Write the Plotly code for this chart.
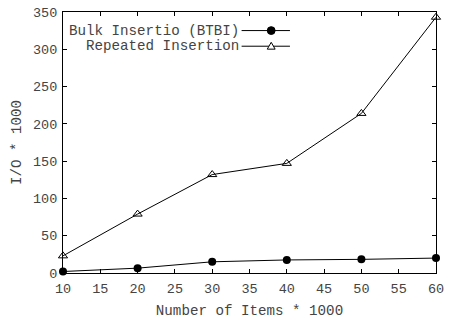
import plotly.graph_objects as go

# Number of items (thousands)
items = [10, 20, 30, 40, 50, 60]
# I/O cost (thousands)
bulk_io = [2, 6.5, 15, 17.5, 18.3, 20]
repeated_io = [23, 79, 132, 147, 214, 343]

series_names = ["Bulk Insertio (BTBI)", "Repeated Insertion"]
x_ticks = [10, 15, 20, 25, 30, 35, 40, 45, 50, 55, 60]
y_ticks = [0, 50, 100, 150, 200, 250, 300, 350]

W, H = 450, 321
L, R, T, B = 63, 9, 6, 48
FONT = "Liberation Mono, Courier New, monospace"
TXT = "#444444"

fig = go.Figure()
fig.add_trace(go.Scatter(
    x=items, y=bulk_io, mode="lines+markers", name=series_names[0],
    line=dict(color="black", width=1),
    marker=dict(symbol="circle", size=8, color="black"),
    showlegend=False, cliponaxis=False,
))
fig.add_trace(go.Scatter(
    x=items, y=repeated_io, mode="lines+markers", name=series_names[1],
    line=dict(color="black", width=1),
    marker=dict(symbol="triangle-up-open", size=8, color="black",
                line=dict(width=1, color="black")),
    showlegend=False, cliponaxis=False,
))

# Key: right-aligned labels followed by a line sample with the point symbol
pw, ph = W - L - R, H - T - B
def px(x):
    return (x - L) / pw
def py(y):
    return 1 - (y - T) / ph

key_rows = [(25, series_names[0], "circle"), (41, series_names[1], "triangle")]
shapes = []
annotations = []
for yy, name, sym in key_rows:
    annotations.append(dict(
        x=px(243), y=py(yy), xref="paper", yref="paper", text=name,
        showarrow=False, xanchor="right", yanchor="middle",
        font=dict(family=FONT, size=14.2, color=TXT),
    ))
    shapes.append(dict(type="line", xref="paper", yref="paper",
                       x0=px(244), x1=px(293), y0=py(yy), y1=py(yy),
                       line=dict(color="black", width=1)))
    cx = 274
    if sym == "circle":
        shapes.append(dict(type="circle", xref="paper", yref="paper",
                           x0=px(cx - 4), x1=px(cx + 4), y0=py(yy - 4), y1=py(yy + 4),
                           fillcolor="black", line=dict(color="black", width=1)))
    else:
        path = "M {} {} L {} {} L {} {} Z".format(
            px(cx - 4), py(yy + 3), px(cx + 4), py(yy + 3), px(cx), py(yy - 4))
        shapes.append(dict(type="path", xref="paper", yref="paper", path=path,
                           fillcolor="white", line=dict(color="black", width=1)))

axis_common = dict(
    showgrid=False, zeroline=False, showline=True, linecolor="black", linewidth=1,
    mirror="ticks", ticks="inside", ticklen=4, tickcolor="black", tickwidth=1,
    tickfont=dict(family=FONT, size=13.5, color=TXT),
)

fig.update_layout(
    width=W, height=H,
    margin=dict(l=L, r=R, t=T, b=B),
    paper_bgcolor="white", plot_bgcolor="white",
    xaxis=dict(range=[10, 60], tickvals=x_ticks, ticklabelstandoff=3,
               title=dict(text="Number of Items * 1000", standoff=8,
                          font=dict(family=FONT, size=14.2, color=TXT)),
               **axis_common),
    yaxis=dict(range=[0, 350], tickvals=y_ticks, ticklabelstandoff=2,
               title=dict(text="I/O * 1000", standoff=8,
                          font=dict(family=FONT, size=14.2, color=TXT)),
               **axis_common),
    shapes=shapes,
    annotations=annotations,
)

fig.write_html("out.html")
